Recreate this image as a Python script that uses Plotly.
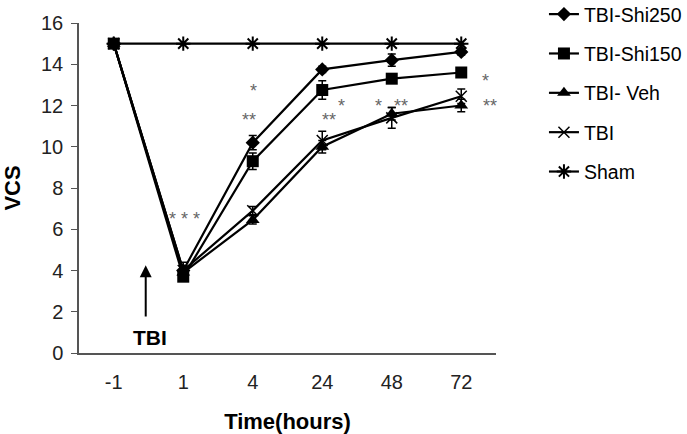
import plotly.graph_objects as go

times = ["-1", "1", "4", "24", "48", "72"]

shi250 = [15, 4.0, 10.2, 13.75, 14.2, 14.6]
shi250_err = [0, 0.15, 0.35, 0.15, 0.3, 0.15]
shi150 = [15, 3.7, 9.3, 12.75, 13.3, 13.6]
shi150_err = [0, 0.15, 0.4, 0.45, 0.15, 0.15]
veh = [15, 3.9, 6.45, 10.0, 11.6, 12.0]
veh_err = [0, 0.2, 0.2, 0.3, 0.3, 0.3]
tbi = [15, 4.0, 6.9, 10.3, 11.4, 12.45]
tbi_err = [0, 0.4, 0.2, 0.45, 0.5, 0.35]
sham = [15, 15, 15, 15, 15, 15]

series_names = ["TBI-Shi250", "TBI-Shi150", "TBI- Veh", "TBI", "Sham"]

# significance marks: (text, x index, y value)
sig_text = ["* * *", "*", "**", "*", "**", "*", "**", "*", "**"]
sig_x = [1.02, 2.01, 1.95, 3.27, 3.10, 3.81, 4.13, 5.35, 5.41]
sig_y = [6.7, 12.88, 11.5, 12.17, 11.5, 12.15, 12.15, 13.4, 12.15]

FONT = "Liberation Sans, Arial, sans-serif"

fig = go.Figure()

specs = [
    (series_names[0], shi250, shi250_err, dict(symbol="diamond", size=11, color="black")),
    (series_names[1], shi150, shi150_err, dict(symbol="square", size=12, color="black")),
    (series_names[2], veh, veh_err, dict(symbol="triangle-up", size=12, color="black")),
    (series_names[3], tbi, tbi_err, dict(symbol="x-thin", size=11, color="black",
                                          line=dict(width=1.5, color="black"))),
    (series_names[4], sham, [0] * 6, dict(symbol="asterisk", size=12, color="black",
                                         line=dict(width=2, color="black"))),
]

for i, (name, vals, err, marker) in enumerate(specs):
    fig.add_trace(go.Scatter(
        x=times, y=vals, name=name, mode="lines+markers",
        line=dict(color="black", width=2.2),
        marker=marker,
        legendgroup=f"g{i}",
        error_y=dict(type="data", array=err, visible=True, color="black",
                     thickness=1.5, width=4),
    ))

for t, x, y in zip(sig_text, sig_x, sig_y):
    fig.add_annotation(x=x, y=y, text=t, showarrow=False, xref="x", yref="y",
                       font=dict(family=FONT, size=18, color="#666666"),
                       yshift=-4)

# TBI arrow and label
fig.add_annotation(x=0.46, y=4.25, ax=0.46, ay=1.7, xref="x", yref="y",
                   axref="x", ayref="y", text="", showarrow=True,
                   arrowhead=2, arrowsize=1.2, arrowwidth=2, arrowcolor="black")
fig.add_annotation(x=0.52, y=0.77, xref="x", yref="y", text="<b>TBI</b>",
                   showarrow=False, font=dict(family=FONT, size=21, color="black"))

fig.update_layout(
    width=687, height=434,
    margin=dict(l=79, r=191, t=23, b=81, autoexpand=False),
    plot_bgcolor="white", paper_bgcolor="white",
    font=dict(family=FONT, color="#222222"),
    showlegend=True,
    legend=dict(x=1.115, y=1.085, xanchor="left", yanchor="top",
                font=dict(family=FONT, size=19.5, color="black"),
                tracegroupgap=11, traceorder="grouped",
                bgcolor="rgba(0,0,0,0)", itemwidth=30),
    xaxis=dict(type="category", range=[-0.5, 5.5], showline=True,
               linecolor="#555555", linewidth=1.5, ticks="",
               showgrid=False, zeroline=False, automargin=False,
               ticklabelstandoff=10,
               tickfont=dict(family=FONT, size=20, color="#222222"),
               title=dict(text="<b>Time(hours)</b>", standoff=23,
                          font=dict(family=FONT, size=22, color="black"))),
    yaxis=dict(range=[0, 16], tickvals=[0, 2, 4, 6, 8, 10, 12, 14, 16],
               showline=True, linecolor="#555555", linewidth=1.5,
               ticks="outside", ticklen=6, tickcolor="#555555",
               showgrid=False, zeroline=False, automargin=False,
               ticklabelstandoff=4,
               tickfont=dict(family=FONT, size=20, color="#222222"),
               title=dict(text="<b>VCS</b>", standoff=41,
                          font=dict(family=FONT, size=22, color="black"))),
)

fig.write_html("out.html", config={"displayModeBar": False},
               post_script="document.body.style.margin='0px';")
